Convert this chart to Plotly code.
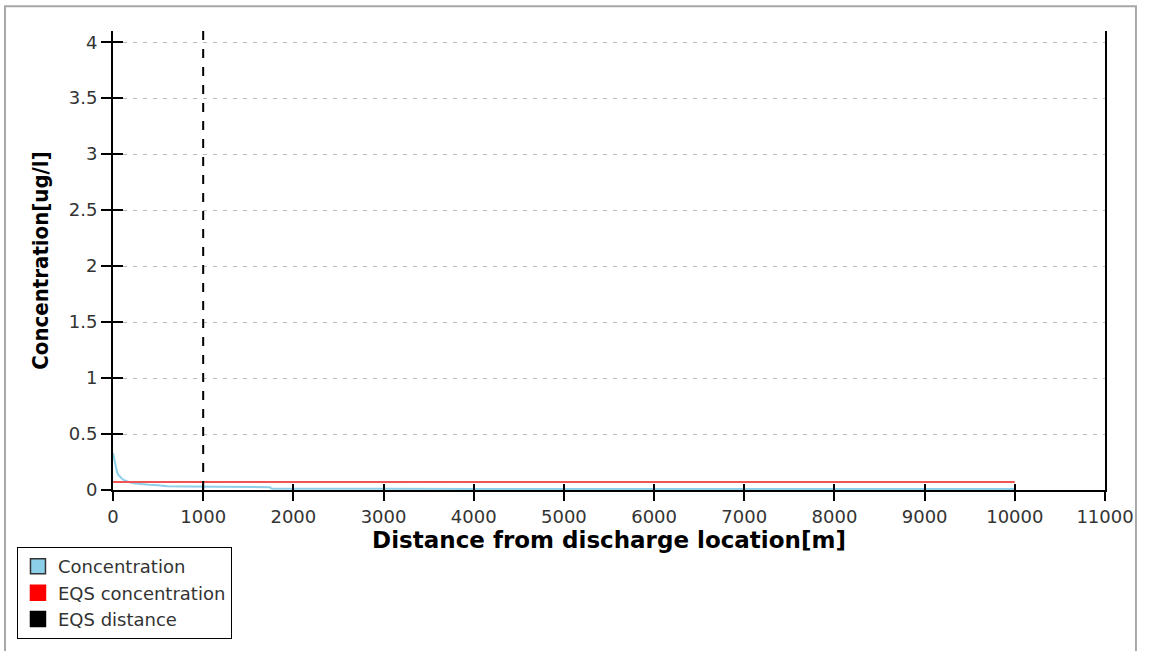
import plotly.graph_objects as go

# ---- data ----
distance_m = [0, 5, 10, 20, 30, 45, 60, 80, 100, 130, 160, 200, 250, 300, 400, 500, 600, 800,
              1000, 1200, 1500, 1740, 1760, 2000, 3000, 4000, 5000, 6000, 7000, 8000, 9000, 10000]
concentration = [0.33, 0.31, 0.28, 0.24, 0.2, 0.16, 0.135, 0.115, 0.1, 0.085, 0.075, 0.065,
                 0.057, 0.052, 0.046, 0.042, 0.033, 0.031, 0.03, 0.028, 0.026, 0.025, 0.012,
                 0.011, 0.011, 0.01, 0.01, 0.01, 0.01, 0.01, 0.01, 0.01]
eqs_concentration = 0.072
eqs_x = [0, 10000]
eqs_distance = 1000

x_ticks = list(range(0, 11001, 1000))
x_ticktext = [str(v) for v in x_ticks]
y_ticks = [0, 0.5, 1, 1.5, 2, 2.5, 3, 3.5, 4]
y_ticktext = ["0", "0.5", "1", "1.5", "2", "2.5", "3", "3.5", "4"]

TICKFONT = dict(family="DejaVu Sans", size=18, color="#333333")

fig = go.Figure()

fig.add_trace(go.Scatter(x=distance_m, y=concentration, mode="lines",
                         line=dict(color="#8ccfe8", width=2), showlegend=False))
fig.add_trace(go.Scatter(x=eqs_x, y=[eqs_concentration] * len(eqs_x), mode="lines",
                         line=dict(color="#f05555", width=2), showlegend=False))

# legend entries (square swatches)
for name, fill, edge in [("Concentration", "#8ccfe8", "#333333"),
                         ("EQS concentration", "#ff0000", "#ff0000"),
                         ("EQS distance", "#000000", "#000000")]:
    fig.add_trace(go.Scatter(x=[None], y=[None], mode="markers", name=name,
                             marker=dict(symbol="square", size=15, color=fill,
                                         line=dict(color=edge, width=1.5))))

# helper trace for inside tick marks
fig.add_trace(go.Scatter(x=[None], y=[None], xaxis="x2", yaxis="y2", showlegend=False))

fig.add_shape(type="line", xref="x", yref="paper", x0=eqs_distance, x1=eqs_distance,
              y0=0, y1=1, line=dict(color="black", width=2, dash="dash"))

# outer frame
fig.add_shape(type="rect", xref="paper", yref="paper", x0=-0.1089, x1=1.0312,
              y0=-0.36, y1=1.054, line=dict(color="#a8a8a8", width=2), layer="below")

fig.update_layout(
    width=1152, height=651,
    margin=dict(l=113, r=47, t=31, b=155),
    paper_bgcolor="white", plot_bgcolor="white",
    xaxis=dict(range=[0, 11000], tickvals=x_ticks, ticktext=x_ticktext, ticks="outside",
               ticklen=9, tickwidth=2, tickcolor="black", showline=True, linecolor="black",
               linewidth=2, showgrid=False, zeroline=False, tickfont=TICKFONT,
               automargin=False,
               title=dict(text="<b>Distance from discharge location[m]</b>",
                          font=dict(family="DejaVu Sans", size=23, color="black"),
                          standoff=2)),
    yaxis=dict(range=[0, 4.1], tickvals=y_ticks, ticktext=y_ticktext, ticks="outside",
               ticklen=10, tickwidth=2, tickcolor="black", showline=True, linecolor="black",
               linewidth=2, mirror=True, showgrid=True, gridcolor="#bdbdbd",
               griddash="4px,6px", gridwidth=1, zeroline=False, tickfont=TICKFONT,
               automargin=False,
               title=dict(text="<b>Concentration[ug/l]</b>",
                          font=dict(family="DejaVu Sans Condensed, Liberation Sans Narrow",
                                    size=22, color="black"),
                          standoff=14)),
    xaxis2=dict(overlaying="x", matches="x", anchor="y2", tickvals=x_ticks,
                ticks="inside", ticklen=6, tickwidth=2, tickcolor="black", automargin=False,
                showticklabels=False, showgrid=False, showline=False, zeroline=False),
    yaxis2=dict(overlaying="y", matches="y", anchor="x2", side="left", tickvals=y_ticks,
                ticks="inside", ticklen=10, tickwidth=2, tickcolor="black", automargin=False,
                showticklabels=False, showgrid=False, showline=False, zeroline=False),
    legend=dict(x=-0.0968, y=-0.3247, xanchor="left", yanchor="bottom",
                bordercolor="black", borderwidth=1, bgcolor="white",
                font=dict(family="DejaVu Sans", size=18, color="#333333"),
                tracegroupgap=0, itemwidth=30),
    showlegend=True,
)

fig.write_html("out.html")
